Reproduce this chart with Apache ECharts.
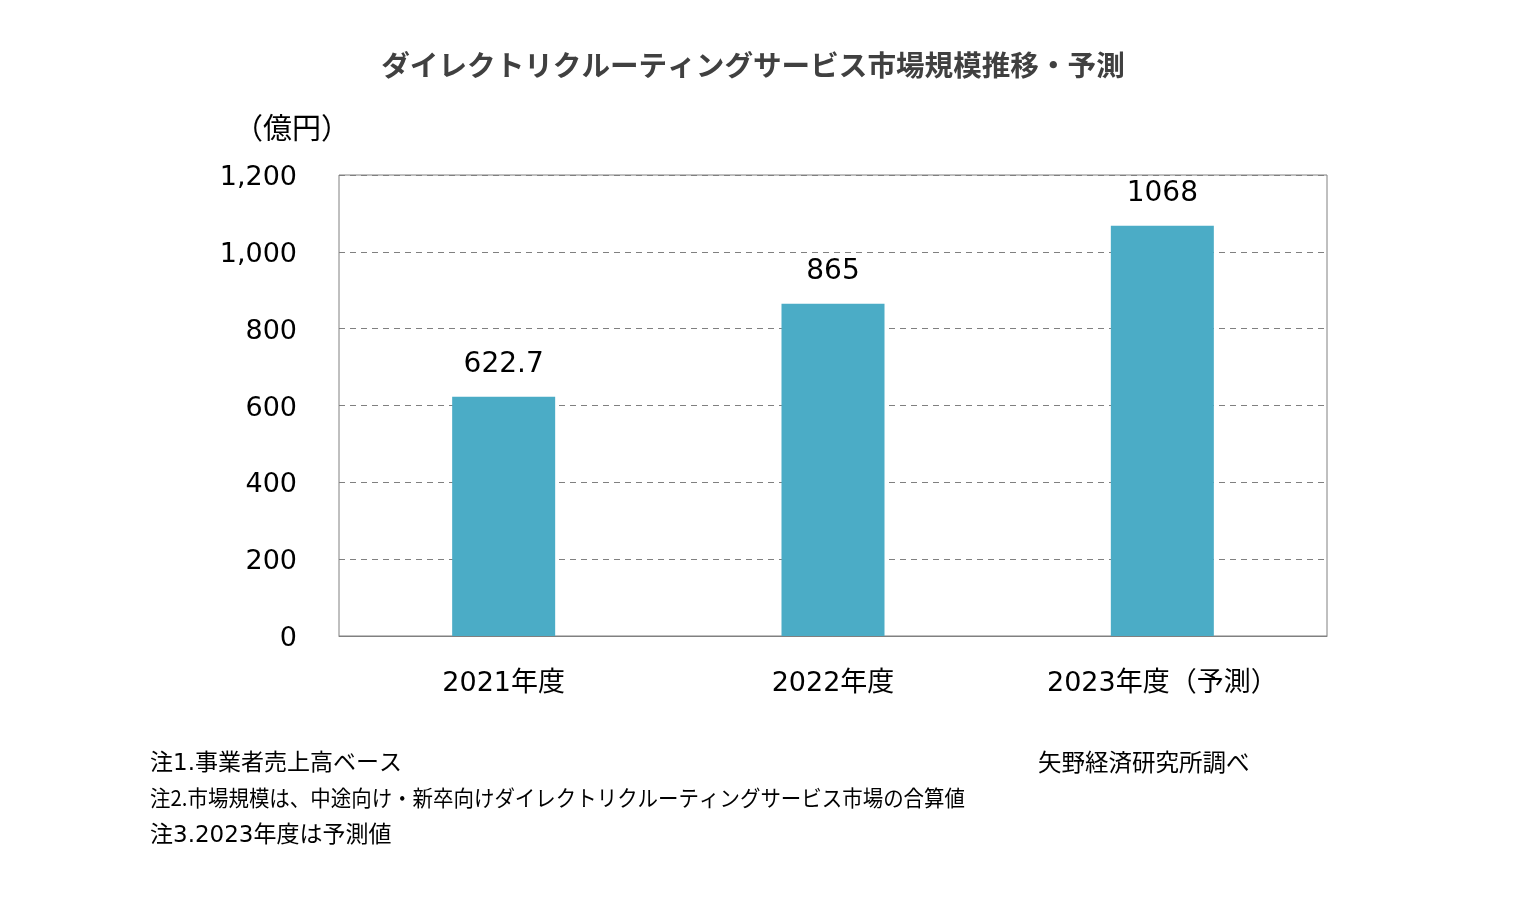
<!DOCTYPE html>
<html><head><meta charset="utf-8">
<script src="https://cdn.jsdelivr.net/npm/echarts@6/dist/echarts.min.js"></script>
<style>html,body{margin:0;padding:0;background:#fff;}#c{width:1540px;height:904px;}</style>
</head><body><div id="c"></div>
<script>
const categories = ['2021年度', '2022年度', '2023年度（予測）'];
const values = [622.7, 865, 1068];
const valueLabels = ['622.7', '865', '1068'];
const titleText = 'ダイレクトリクルーティングサービス市場規模推移・予測';
const unitText = '（億円）';
const notes = ['注1.事業者売上高ベース', '注2.市場規模は、中途向け・新卒向けダイレクトリクルーティングサービス市場の合算値', '注3.2023年度は予測値'];
const sourceText = '矢野経済研究所調べ';

const FONT = '"Noto Sans CJK JP", "Noto Sans", sans-serif';
const NUMFONT = '"DejaVu Sans", "Noto Sans CJK JP", sans-serif';
const chart = echarts.init(document.getElementById('c'));
chart.setOption({
  backgroundColor: '#fff',
  animation: false,
  title: {
    text: titleText, left: 748, top: 46, textAlign: 'center',
    textStyle: {fontFamily: FONT, fontSize: 28.6, fontWeight: 'bold', color: '#404040'}
  },
  graphic: [
    {type: 'text', left: 234, top: 113, style: {text: unitText, font: '29px ' + FONT, fill: '#000'}},
    ...notes.map((t, i) => ({type: 'text', left: 150, top: (i === 1 ? 751 : 753) + i * 36, scaleX: i === 1 ? 0.93 : 1,
      style: {text: t, font: (i === 1 ? '22px ' + FONT : '23px ' + NUMFONT), fill: '#000'}})),
    {type: 'text', left: 1038, top: 750, style: {text: sourceText, font: '23.5px ' + FONT, fill: '#000'}}
  ],
  grid: {left: 339, top: 175, width: 988, height: 461, show: true, borderColor: '#808080', borderWidth: 1, backgroundColor: 'transparent'},
  xAxis: {
    type: 'category', data: categories,
    axisLine: {show: true, lineStyle: {color: '#808080'}},
    axisTick: {show: false},
    axisLabel: {fontFamily: NUMFONT, fontSize: 27, color: '#000', margin: 34}
  },
  yAxis: {
    type: 'value', min: 0, max: 1200, interval: 200,
    axisLine: {show: false}, axisTick: {show: false},
    axisLabel: {margin: 42,
      formatter: v => '{a|' + v.toLocaleString('en-US') + '}',
      rich: {a: {fontFamily: NUMFONT, fontSize: 27, color: '#000', padding: [6, 0, 0, 0]}}},
    splitLine: {show: true, lineStyle: {color: '#808080', type: [6, 5], width: 1}}
  },
  series: [{
    type: 'bar', data: values, barWidth: 103,
    itemStyle: {color: '#4BACC6'},
    label: {show: true, position: 'top', distance: 18, fontFamily: NUMFONT, fontSize: 28, color: '#000',
      formatter: p => valueLabels[p.dataIndex]}
  }]
});
</script></body></html>
